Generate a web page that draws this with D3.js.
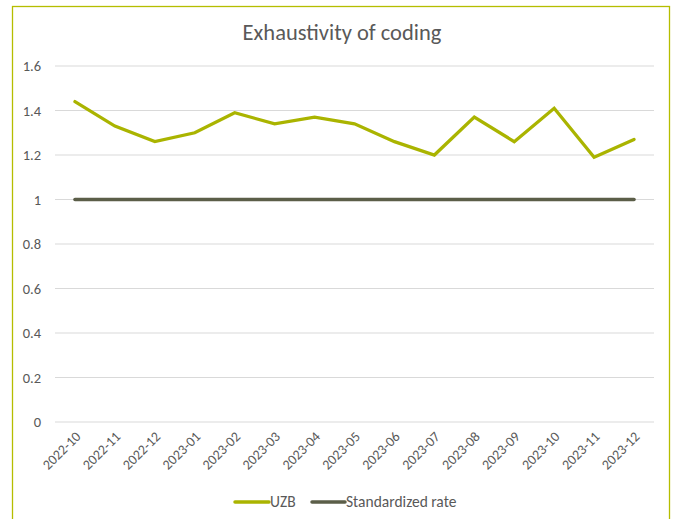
<!DOCTYPE html>
<html><head><meta charset="utf-8">
<script src="https://cdn.jsdelivr.net/npm/d3@7"></script>
<style>
body{margin:0;background:#fff;}
text{font-family:Carlito,Lato,"Open Sans",sans-serif;fill:#595959;}
</style></head>
<body><svg id="c" width="676" height="519"></svg>
<script>
const categories = ["2022-10","2022-11","2022-12","2023-01","2023-02","2023-03","2023-04","2023-05","2023-06","2023-07","2023-08","2023-09","2023-10","2023-11","2023-12"];
const uzbValues = [1.44,1.33,1.26,1.30,1.39,1.34,1.37,1.34,1.26,1.20,1.37,1.26,1.41,1.19,1.27];
const standardValues = [1,1,1,1,1,1,1,1,1,1,1,1,1,1,1];
const yTicks = [0,0.2,0.4,0.6,0.8,1,1.2,1.4,1.6];
const seriesNames = ["UZB","Standardized rate"];
const colors = ["#AAB400","#5B5E48"];

const svg = d3.select("#c");
svg.append("rect").attr("x",12.5).attr("y",6.5).attr("width",657).attr("height",520)
  .attr("fill","#fff").attr("stroke","#B5BD00").attr("stroke-width",1.3);

const x = d3.scaleBand().domain(categories).range([55,654]);
const y = d3.scaleLinear().domain([0,1.6]).range([422,66]);
const cx = d => x(d) + x.bandwidth()/2;

// gridlines
svg.append("g").selectAll("line").data(yTicks).join("line")
  .attr("x1",55).attr("x2",654).attr("y1",d=>y(d)).attr("y2",d=>y(d))
  .attr("stroke","#D9D9D9").attr("stroke-width",1.2);

// y labels
svg.append("g").selectAll("text").data(yTicks).join("text")
  .attr("x",41).attr("y",d=>y(d)).attr("dy","0.35em").attr("text-anchor","end")
  .attr("font-size",14.5).text(d=>d);

// x labels
svg.append("g").selectAll("text").data(categories).join("text")
  .attr("transform",d=>`translate(${cx(d)+3},${434}) rotate(-45)`)
  .attr("text-anchor","end").attr("dy","0.35em").attr("font-size",14).text(d=>d);

const line = d3.line().x((d,i)=>cx(categories[i])).y(d=>y(d));
svg.append("path").datum(standardValues).attr("d",line).attr("fill","none")
  .attr("stroke",colors[1]).attr("stroke-width",3.5).attr("stroke-linecap","round");
svg.append("path").datum(uzbValues).attr("d",line).attr("fill","none")
  .attr("stroke",colors[0]).attr("stroke-width",3.3).attr("stroke-linejoin","miter").attr("stroke-linecap","round");

// title
svg.append("text").attr("x",342).attr("y",40).attr("text-anchor","middle")
  .attr("font-size",22.5).text("Exhaustivity of coding");

// legend
const lg = svg.append("g");
const legendPos = [{lx:235,tx:270},{lx:312,tx:346}];
seriesNames.forEach((n,i)=>{
  lg.append("line").attr("x1",legendPos[i].lx).attr("x2",legendPos[i].tx-1).attr("y1",502).attr("y2",502)
    .attr("stroke",colors[i]).attr("stroke-width",3.5).attr("stroke-linecap","round");
  lg.append("text").attr("x",legendPos[i].tx).attr("y",502).attr("dy","0.35em").attr("font-size",15.5).text(n);
});
</script></body></html>
